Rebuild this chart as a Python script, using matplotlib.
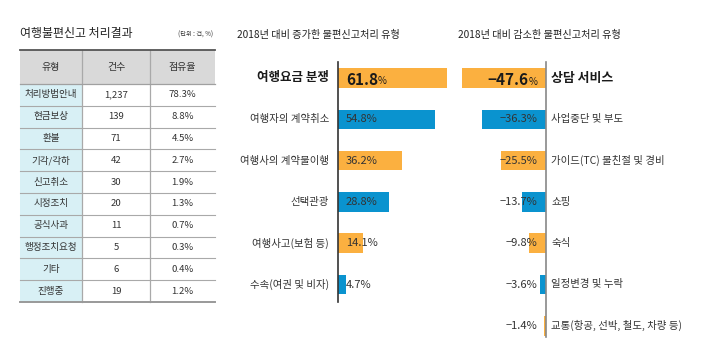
import matplotlib
matplotlib.use("Agg")
import matplotlib.pyplot as plt
from matplotlib.patches import Rectangle

plt.rcParams['font.family'] = ['Noto Sans CJK KR', 'DejaVu Sans']

# 표 데이터
table_header = ['유형', '건수', '점유율']
table_types = ['처리방법안내', '현금보상', '환불', '기각/각하', '신고취소',
               '시정조치', '공식사과', '행정조치요청', '기타', '진행중']
table_counts = ['1,237', '139', '71', '42', '30', '20', '11', '5', '6', '19']
table_shares = [78.3, 8.8, 4.5, 2.7, 1.9, 1.3, 0.7, 0.3, 0.4, 1.2]

# 증가 / 감소 유형
inc_labels = ['여행요금 분쟁', '여행자의 계약취소', '여행사의 계약불이행', '선택관광',
              '여행사고(보험 등)', '수속(여권 및 비자)']
inc_values = [61.8, 54.8, 36.2, 28.8, 14.1, 4.7]
dec_labels = ['상담 서비스', '사업중단 및 부도', '가이드(TC) 불친절 및 경비', '쇼핑',
              '숙식', '일정변경 및 누락', '교통(항공, 선박, 철도, 차량 등)']
dec_values = [-47.6, -36.3, -25.5, -13.7, -9.8, -3.6, -1.4]

ORANGE = '#fbb040'
BLUE = '#0a93cf'
TXT = '#333333'

W, H = 719, 360
fig = plt.figure(figsize=(W / 100, H / 100), dpi=100)

# 배경 축 (픽셀 좌표)
bg = fig.add_axes([0, 0, 1, 1])
bg.set_xlim(0, W)
bg.set_ylim(H, 0)
bg.axis('off')

# ---- 표 ----
bg.text(20, 33, '여행불편신고 처리결과', fontsize=8.6, color='#222222', va='center')
bg.text(213, 35, '(단위 : 건, %)', fontsize=4.5, color=TXT, va='center', ha='right')

col_x = [20, 82, 150, 215]
top, head_bot, bottom = 50, 84, 302
row_h = (bottom - head_bot) / len(table_types)

bg.add_patch(Rectangle((col_x[0], top), col_x[3] - col_x[0], head_bot - top,
                       facecolor='#d9d9d9', edgecolor='none'))
bg.add_patch(Rectangle((col_x[0], head_bot), col_x[1] - col_x[0], bottom - head_bot,
                       facecolor='#d8f0f5', edgecolor='none'))
for j, h in enumerate(table_header):
    bg.text((col_x[j] + col_x[j + 1]) / 2, (top + head_bot) / 2, h,
            fontsize=7.2, color=TXT, ha='center', va='center')

for i in range(len(table_types)):
    yc = head_bot + row_h * (i + 0.5)
    cells = [table_types[i], table_counts[i], f'{table_shares[i]:.1f}%']
    for j, c in enumerate(cells):
        bg.text((col_x[j] + col_x[j + 1]) / 2, yc, c, fontsize=6.9, color=TXT,
                ha='center', va='center')
    if i > 0:
        y = head_bot + row_h * i
        bg.plot([col_x[0], col_x[3]], [y, y], color='#a9a9a9', lw=0.8)

for x in col_x[1:3]:
    bg.plot([x, x], [top, bottom], color='#a9a9a9', lw=0.9)
bg.plot([col_x[0], col_x[3]], [head_bot, head_bot], color='#a0a0a0', lw=0.9)
bg.plot([col_x[0], col_x[3]], [top, top], color='#555555', lw=1.3)
bg.plot([col_x[0], col_x[3]], [bottom, bottom], color='#999999', lw=1.4)

# ---- 막대 그래프 공통 ----
PX = 1.765       # 1% 당 픽셀
ROW = 41.3       # 행 간격(픽셀)
Y0 = 78          # 첫 막대 중심(픽셀)
AY_TOP, AY_BOT = 55, 345


def bar_axes(left_px, right_px, zero_px):
    ax = fig.add_axes([left_px / W, 1 - AY_BOT / H, (right_px - left_px) / W,
                       (AY_BOT - AY_TOP) / H])
    ax.set_xlim(-(zero_px - left_px) / PX, (right_px - zero_px) / PX)
    ax.set_ylim((AY_BOT - Y0) / ROW, (AY_TOP - Y0) / ROW)
    ax.axis('off')
    return ax


colors_inc = [ORANGE if i % 2 == 0 else BLUE for i in range(len(inc_values))]
colors_dec = [ORANGE if i % 2 == 0 else BLUE for i in range(len(dec_values))]

# ---- 증가 ----
bg.text(237, 35, '2018년 대비 증가한 불편신고처리 유형', fontsize=7.3, color='#222222',
        va='center')
ax1 = bar_axes(230, 460, 338)
ax1.barh(range(len(inc_values)), inc_values, height=0.47, color=colors_inc)
ax1.plot([0, 0], [(62 - Y0) / ROW, (302 - Y0) / ROW], color='#333333', lw=1.2)
for i, (lab, v) in enumerate(zip(inc_labels, inc_values)):
    if i == 0:
        ax1.text(-5, i, lab, fontsize=9, fontweight='bold', color='#1a1a1a',
                 ha='right', va='center')
        t = ax1.text(4.5, i + 0.05, f'{v:.1f}', fontsize=11, fontweight='bold',
                     color='#1a1a1a', ha='left', va='center')
        ax1.annotate('%', xy=(1, 0.12), xycoords=t, fontsize=7, color='#1a1a1a',
                     ha='left', va='bottom')
    else:
        ax1.text(-5, i, lab, fontsize=7.5, color=TXT, ha='right', va='center')
        ax1.text(4.5, i, f'{v:.1f}%', fontsize=8, color=TXT, ha='left', va='center')

# ---- 감소 ----
bg.text(458, 35, '2018년 대비 감소한 불편신고처리 유형', fontsize=7.3, color='#222222',
        va='center')
ax2 = bar_axes(450, 719, 546)
ax2.barh(range(len(dec_values)), dec_values, height=0.47, color=colors_dec)
ax2.plot([0, 0], [(62 - Y0) / ROW, (337 - Y0) / ROW], color='#888888', lw=1.2)
for i, (lab, v) in enumerate(zip(dec_labels, dec_values)):
    if i == 0:
        ax2.text(3, i, lab, fontsize=9.3, fontweight='bold', color='#1a1a1a',
                 ha='left', va='center')
        p = ax2.text(-5, i + 0.1, '%', fontsize=7, color='#1a1a1a', ha='right',
                     va='center')
        ax2.annotate(f'{v:.1f}'.replace('-', '\u2212'), xy=(0, -0.12), xycoords=p,
                     fontsize=11, fontweight='bold', color='#1a1a1a',
                     ha='right', va='bottom')
    else:
        ax2.text(3, i, lab, fontsize=7.5, color=TXT, ha='left', va='center')
        ax2.text(-5, i, f'{v:.1f}%'.replace('-', '\u2212'), fontsize=8, color=TXT,
                 ha='right', va='center')

fig.savefig('out.png', dpi=100)
